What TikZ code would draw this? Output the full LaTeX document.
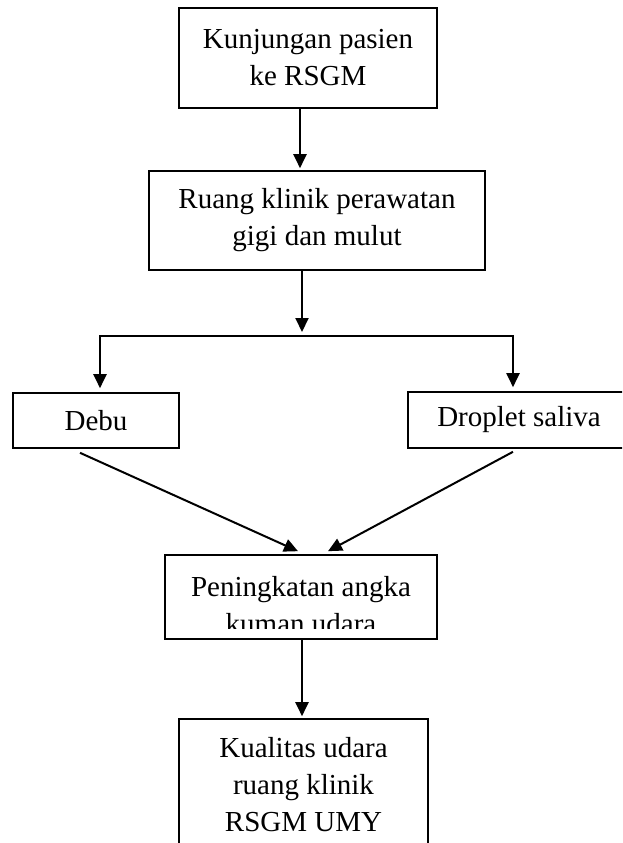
\documentclass[tikz,border=0pt]{standalone}
\usepackage{fontspec}
\setmainfont{Liberation Serif}
\usetikzlibrary{arrows.meta,calc}
\begin{document}
\begin{tikzpicture}[x=1pt,y=-1pt,
  box/.style={draw, line width=1.6pt, inner sep=0pt, font=\fontsize{29}{37}\selectfont, align=center},
  txt/.style={inner sep=0pt, font=\fontsize{29}{37}\selectfont, align=center},
  conn/.style={line width=2pt, -{Triangle[length=14pt,width=13pt]}},
]
\useasboundingbox (0,0) rectangle (622,843);
\clip (0,0) rectangle (622,843);
\node[box, minimum width=258pt, minimum height=100pt] (kunj) at (308,58) {Kunjungan pasien\\ke RSGM};
\node[box, minimum width=336pt, minimum height=99pt] (ruang) at (317,220.5) {Ruang klinik perawatan\\gigi dan mulut};
\node[box, minimum width=166pt, minimum height=55pt] (debu) at (96,420.5) {Debu};
\node[box, minimum width=222pt, minimum height=56pt] (drop) at (519,420) {Droplet saliva};
\node[box, minimum width=272pt, minimum height=84pt] (pen) at (301,597) {};
\begin{scope}
  \clip (pen.north west) rectangle ([yshift=11pt]pen.south east);
  \node[txt] (pent) at (301,605) {Peningkatan angka\\kuman udara};
\end{scope}
\node[box, minimum width=249pt, minimum height=151pt] (kual) at (303.5,794.5) {};
\node[txt] (kualt) at (303.5,785) {Kualitas udara\\ruang klinik\\RSGM UMY};
\coordinate (c1) at (300,0);
\coordinate (c2) at (302,0);
\coordinate (c3) at (302,0);
\coordinate (bl) at (100,336);
\coordinate (br) at (513,336);
\draw[conn, shorten >=2pt] (kunj.south -| c1) -- (ruang.north -| c1);
\draw[conn, shorten >=4pt] (ruang.south -| c2) -- (c2 |- bl);
\draw[line width=2pt, {Triangle[length=14pt,width=13pt]}-{Triangle[length=14pt,width=13pt]}, shorten <=4pt, shorten >=4pt] (bl |- debu.north) -- (bl) -- (br) -- (br |- drop.north);
\draw[conn] ([xshift=-16pt,yshift=-4pt]debu.south) -- ([xshift=-3pt,yshift=3pt]pen.north);
\draw[conn] ([xshift=-6pt,yshift=-3pt]drop.south) -- ([xshift=27pt,yshift=3pt]pen.north);
\draw[conn, shorten >=2pt] (pen.south -| c3) -- (kual.north -| c3);
\end{tikzpicture}
\end{document}
